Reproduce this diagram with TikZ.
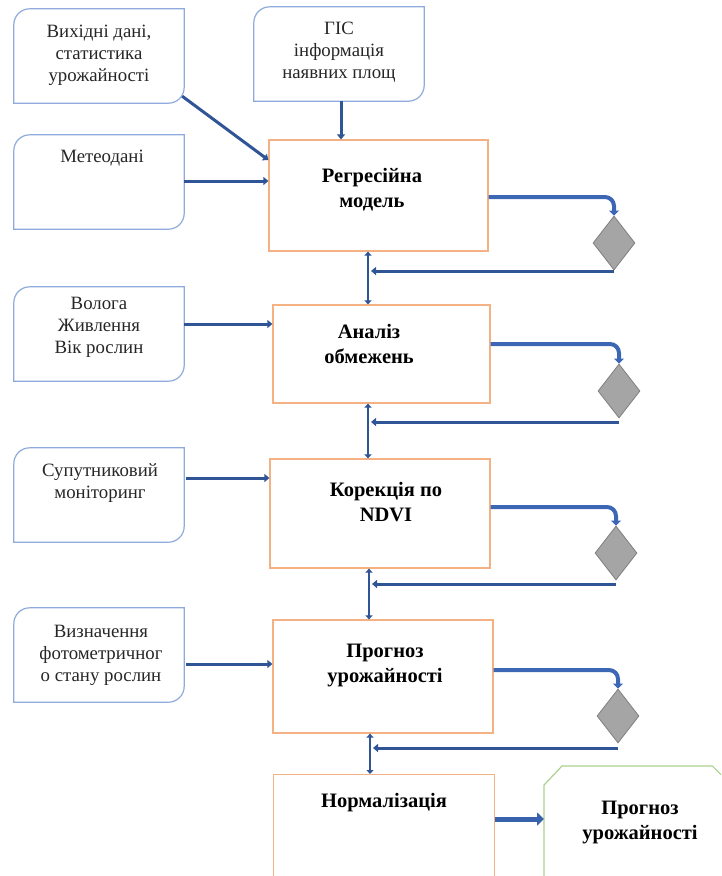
\documentclass[tikz,border=0pt]{standalone}
\usepackage{fontspec}
\setmainfont{Liberation Serif}
\usetikzlibrary{shapes.geometric,arrows.meta,calc}
\definecolor{lnblue}{HTML}{2F5597}
\definecolor{bxblue}{HTML}{8FAADC}
\definecolor{bxorange}{HTML}{F4B183}
\definecolor{bxgreen}{HTML}{A9D18E}
\definecolor{dmgray}{HTML}{A5A5A5}
\definecolor{dmedge}{HTML}{7F7F7F}
\definecolor{curvblue}{HTML}{3C67B5}
\newcommand\lbshape[1]{\draw[bxblue, line width=1.2pt] (#1.south west) -- ([yshift=-16pt]#1.north west) .. controls ([yshift=-7pt]#1.north west) and ([xshift=7pt]#1.north west) .. ([xshift=16pt]#1.north west) -- (#1.north east) -- ([yshift=16pt]#1.south east) .. controls ([yshift=7pt]#1.south east) and ([xshift=-7pt]#1.south east) .. ([xshift=-16pt]#1.south east) -- cycle;}
\begin{document}
\begin{tikzpicture}[x=1pt,y=-1pt,
  lbox/.style={minimum width=170pt, minimum height=94pt, inner sep=0pt},
  ltext/.style={font=\fontsize{18.8}{22}\selectfont, align=center, inner sep=0pt, text=black!85},
  cbox/.style={draw=bxorange, line width=1.2pt, inner sep=0pt},
  ctext/.style={font=\fontsize{20.5}{25}\selectfont\bfseries, align=center, inner sep=0pt},
  dia/.style={diamond, draw=dmedge, fill=dmgray, line width=0.8pt, minimum width=42pt, minimum height=54pt, inner sep=0pt},
  conn/.style={lnblue, line width=3pt, -{Triangle[length=5pt,width=8pt]}},
  dbl/.style={lnblue, line width=2.6pt, {Triangle[length=4pt,width=7pt]}-{Triangle[length=4pt,width=7pt]}},
  curv/.style={curvblue, line width=4pt, rounded corners=9pt, -{Triangle[length=5pt,width=10pt]}},
  bigarr/.style={curvblue!70!lnblue, line width=5pt, -{Triangle[length=7pt,width=13pt]}}
]
\useasboundingbox (0,0) rectangle (721,876);
\clip (0,0) rectangle (721,876);

% left input boxes
\node[lbox] (L1) at (99,56) {};
\node[lbox] (G) at (339,54) {};
\node[lbox] (L2) at (99,182) {};
\node[lbox] (L3) at (99,334) {};
\node[lbox] (L4) at (99,495) {};
\node[lbox] (L5) at (99,655) {};
\lbshape{L1}\lbshape{G}\lbshape{L2}\lbshape{L3}\lbshape{L4}\lbshape{L5}
\node[ltext] (tL1) at (99,55) {Вихідні дані,\\статистика\\урожайності};
\node[ltext] (tG) at (339,52) {ГІС\\інформація\\наявних площ};
\node[ltext] (tL2) at (102,158) {Метеодані};
\node[ltext] (tL3) at (99,327) {Волога\\Живлення\\Вік рослин};
\node[ltext] (tL4) at (100,483) {Супутниковий\\моніторинг};
\node[ltext] (tL5) at (101,655) {Визначення\\фотометричног\\о стану рослин};

% central process boxes
\node[cbox, minimum width=219pt, minimum height=111pt] (C1) at (378.5,195.5) {};
\node[cbox, minimum width=217pt, minimum height=98pt] (C2) at (381.5,354) {};
\node[cbox, minimum width=220pt, minimum height=109pt] (C3) at (380,513.5) {};
\node[cbox, minimum width=220pt, minimum height=113pt] (C4) at (383,676.5) {};
\node[cbox, minimum width=221pt, minimum height=120pt, anchor=north west] (C5) at (273,774) {};
\node[ctext] (tC1) at (372,190) {Регресійна\\модель};
\node[ctext] (tC2) at (369,344) {Аналіз\\обмежень};
\node[ctext] (tC3) at (386,502) {Корекція по\\NDVI};
\node[ctext] (tC4) at (385,665) {Прогноз\\урожайності};
\node[ctext] (tC5) at (384,803) {Нормалізація};

% result box
\node[minimum width=186pt, minimum height=130pt, inner sep=0pt, anchor=north west] (GR) at (544,766) {};
\draw[bxgreen, line width=1.2pt] (GR.south west) -- ([yshift=-19pt]GR.north west) -- ([xshift=18pt]GR.north west) -- ([xshift=-18pt]GR.north east) -- ([yshift=-18pt]GR.north east) -- (GR.south east);
\node[ctext] (tGR) at (640,822) {Прогноз\\урожайності};

% diamonds
\node[dia] (D1) at (614,243) {};
\node[dia] (D2) at (619,391) {};
\node[dia] (D3) at (616,553) {};
\node[dia] (D4) at (618,716) {};

% input connectors
\draw[conn] ([xshift=-2pt,yshift=7pt]L1.south east) -- (C1.west |- 0,160);
\draw[conn] (L2.east |- 0,181) -- (C1.west |- 0,181);
\draw[conn] (G.south -| 341,0) -- (C1.north -| 341,0);
\draw[conn] (L3.east |- 0,324) -- (C2.west |- 0,324);
\draw[conn] ([xshift=2pt]L4.east |- 0,478) -- (C3.west |- 0,478);
\draw[conn] ([xshift=2pt]L5.east |- 0,664) -- (C4.west |- 0,664);

% vertical double arrows
\draw[dbl] (C1.south -| 368,0) -- (C2.north -| 368,0);
\draw[dbl] (C2.south -| 368,0) -- (C3.north -| 368,0);
\draw[dbl] (C3.south -| 369,0) -- (C4.north -| 369,0);
\draw[dbl] (C4.south -| 370,0) -- (C5.north -| 370,0);

% loops to diamonds
\draw[curv] (C1.east |- 0,197) -| (D1.north);
\draw[curv] (C2.east |- 0,344) -| (D2.north);
\draw[curv] (C3.east |- 0,507) -| (D3.north);
\draw[curv] (C4.east |- 0,670) -| (D4.north);

% returns
\draw[conn] (D1.south |- 0,271) -- (371,271);
\draw[conn] (D2.south |- 0,422) -- (371,422);
\draw[conn] (D3.south |- 0,584) -- (372,584);
\draw[conn] (D4.south |- 0,748) -- (373,748);

% to result
\draw[bigarr] (C5.east |- 0,819) -- (GR.west |- 0,819);
\end{tikzpicture}
\end{document}
